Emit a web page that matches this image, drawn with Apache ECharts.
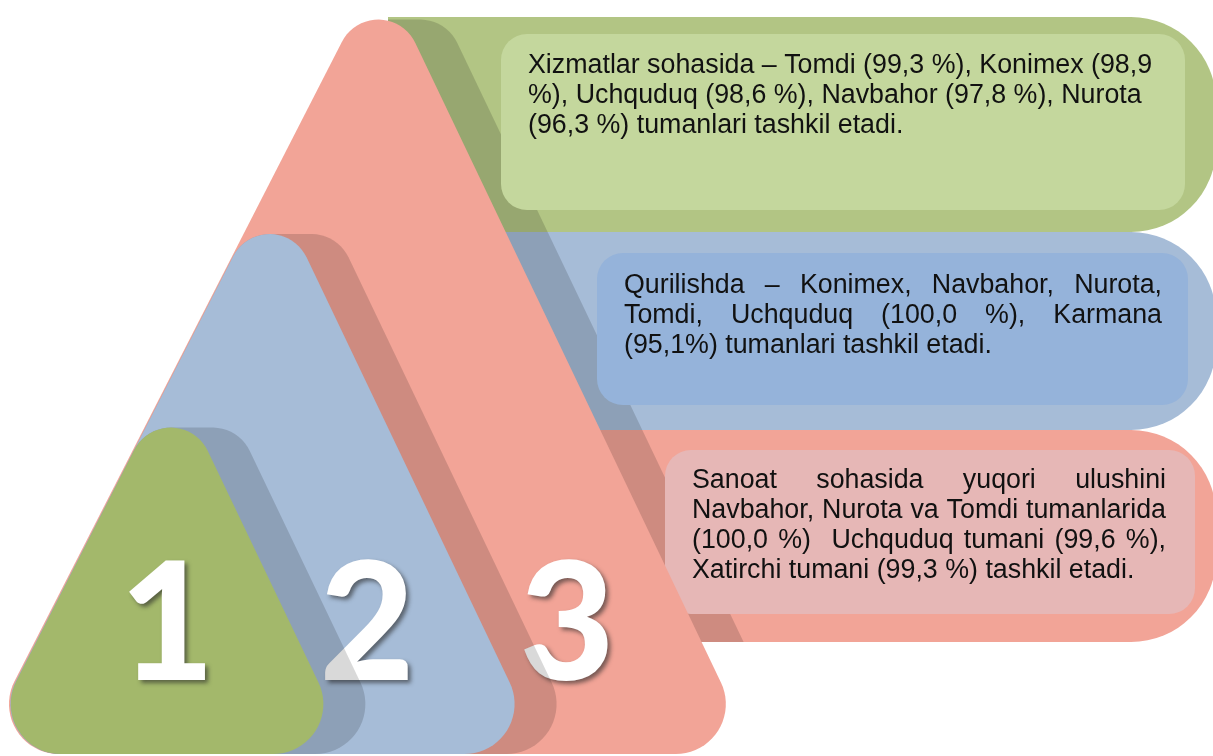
<!DOCTYPE html>
<html>
<head>
<meta charset="utf-8">
<style>
  html, body { margin: 0; padding: 0; background: #ffffff; }
  #chart { width: 1213px; height: 756px; }
</style>
<script src="https://cdn.jsdelivr.net/npm/echarts@6/dist/echarts.min.js"></script>
</head>
<body>
<div id="chart"></div>
<script>
// data
const steps = ["1", "2", "3"];
const servicesText = [
  "Xizmatlar sohasida – Tomdi (99,3 %), Konimex (98,9",
  "%), Uchquduq (98,6 %), Navbahor (97,8 %), Nurota",
  "(96,3 %) tumanlari tashkil etadi.",
];
const buildingText = [
  "Qurilishda – Konimex, Navbahor, Nurota,",
  "Tomdi, Uchquduq (100,0 %), Karmana",
  "(95,1%) tumanlari tashkil etadi.",
];
const industryText = [
  "Sanoat sohasida yuqori ulushini",
  "Navbahor, Nurota va Tomdi tumanlarida",
  "(100,0 %)  Uchquduq tumani (99,6 %),",
  "Xatirchi tumani (99,3 %) tashkil etadi.",
];
const paragraphs = [servicesText, buildingText, industryText];
const justified = [false, true, true];

// layout
const SL = 0.51, SR = 0.478;   // left / right edge slope (dx per dy)
const BASE_Y = 754;
const SHIFT = 42;              // width of the 3d shadow
const apexes = [[172, 376], [270, 181], [378, -35]];
const insets = [0, 0.8, 1.6];  // keep back layers from fringing on the shared left edge
const colors = [
  { tri: "#a3b86b", band: "#b2c584", box: "#c4d79d" },
  { tri: "#a6bcd7", band: "#a6bcd7", box: "#95b3da" },
  { tri: "#f2a497", band: "#f2a497", box: "#e6b7b6" },
];
const bands = [[17, 232], [232, 430], [430, 642]];
const BAND_X = 388, BAND_RIGHT = 1216;
const boxes = [[501, 34, 1185, 210], [597, 253, 1188, 405], [665, 450, 1195, 614]];
const textLeft = [528, 624, 692];
const textRight = [1160, 1162, 1166];
const firstLineY = [66, 286, 481];
const LINE_H = 30;
const FONT_SIZE = 26.8;
const FONT_FAMILY = "'Liberation Sans', Arial, sans-serif";
const numX = [167, 367, 567];
const NUM_Y = 627;
const NUM_SIZE = 164;
const SHADOW = "rgba(0, 0, 0, 0.15)";

function unit(a, p) {
  const dx = a[0] - p[0], dy = a[1] - p[1];
  const l = Math.hypot(dx, dy);
  return [dx / l, dy / l];
}

function roundedTriangle(apex, inset, rTop, rBottom) {
  const [ax, ay] = apex;
  const h = BASE_Y - ay;
  const corners = [[ax + inset, ay + inset / SL], [ax + SR * h, BASE_Y], [ax - SL * h + inset, BASE_Y]];
  const radii = [rTop, rBottom, rBottom];
  const pts = [];
  for (let i = 0; i < 3; i++) {
    const p = corners[i];
    const u1 = unit(corners[(i + 2) % 3], p);
    const u2 = unit(corners[(i + 1) % 3], p);
    const theta = Math.acos(u1[0] * u2[0] + u1[1] * u2[1]);
    const r = radii[i];
    const t = r / Math.tan(theta / 2);
    const d = r / Math.sin(theta / 2);
    const bis = unit([u1[0] + u2[0], u1[1] + u2[1]], [0, 0]);
    const c = [p[0] + bis[0] * d, p[1] + bis[1] * d];
    const a1 = Math.atan2(p[1] + u1[1] * t - c[1], p[0] + u1[0] * t - c[0]);
    const a2 = Math.atan2(p[1] + u2[1] * t - c[1], p[0] + u2[0] * t - c[0]);
    let da = a2 - a1;
    while (da > Math.PI) da -= 2 * Math.PI;
    while (da < -Math.PI) da += 2 * Math.PI;
    for (let k = 0; k <= 20; k++) {
      const ang = a1 + (da * k) / 20;
      pts.push([c[0] + r * Math.cos(ang), c[1] + r * Math.sin(ang)]);
    }
  }
  return pts;
}

function hull(points) {
  const p = points.slice().sort((a, b) => a[0] - b[0] || a[1] - b[1]);
  const cross = (o, a, b) => (a[0] - o[0]) * (b[1] - o[1]) - (a[1] - o[1]) * (b[0] - o[0]);
  const lower = [], upper = [];
  for (const q of p) {
    while (lower.length >= 2 && cross(lower[lower.length - 2], lower[lower.length - 1], q) <= 0) lower.pop();
    lower.push(q);
  }
  for (let i = p.length - 1; i >= 0; i--) {
    const q = p[i];
    while (upper.length >= 2 && cross(upper[upper.length - 2], upper[upper.length - 1], q) <= 0) upper.pop();
    upper.push(q);
  }
  return lower.slice(0, -1).concat(upper.slice(0, -1));
}

function extrude(pts) {
  return hull(pts.concat(pts.map((q) => [q[0] + SHIFT, q[1]])));
}

// clip polygon to half plane: keep points where f(p) >= 0 (f linear)
function clip(poly, f) {
  const out = [];
  for (let i = 0; i < poly.length; i++) {
    const a = poly[i], b = poly[(i + 1) % poly.length];
    const fa = f(a), fb = f(b);
    if (fa >= 0) out.push(a);
    if ((fa >= 0) !== (fb >= 0)) {
      const t = fa / (fa - fb);
      out.push([a[0] + (b[0] - a[0]) * t, a[1] + (b[1] - a[1]) * t]);
    }
  }
  return out;
}

const ctx = document.createElement("canvas").getContext("2d");
ctx.font = FONT_SIZE + "px " + FONT_FAMILY;

const textFont = { fontSize: FONT_SIZE, fontFamily: FONT_FAMILY, fill: "#111111" };
const elements = [];
let z = 0;
const add = (el) => { el.z = z++; elements.push(el); };

// bands
bands.forEach(([y0, y1], i) => {
  add({
    type: "rect",
    shape: { x: BAND_X, y: y0, width: BAND_RIGHT - BAND_X, height: y1 - y0, r: [0, 85, 85, 0] },
    style: { fill: colors[i].band },
  });
});

const tris = apexes.map((a, i) => roundedTriangle(a, insets[i], 41, 50));

// shadow of the big triangle over the bands
let pinkShadow = extrude(tris[2]);
pinkShadow = clip(pinkShadow, (q) => q[1] - bands[0][0]);
pinkShadow = clip(pinkShadow, (q) => bands[2][1] - q[1]);
pinkShadow = clip(pinkShadow, (q) => q[0] - BAND_X);
add({ type: "polygon", shape: { points: pinkShadow }, style: { fill: SHADOW } });

// inner boxes and texts
boxes.forEach(([x0, y0, x1, y1], i) => {
  add({
    type: "rect",
    shape: { x: x0, y: y0, width: x1 - x0, height: y1 - y0, r: 26 },
    style: { fill: colors[i].box },
  });
});

paragraphs.forEach((lines, i) => {
  lines.forEach((line, j) => {
    const y = firstLineY[i] + j * LINE_H;
    const last = j === lines.length - 1;
    if (!justified[i] || last) {
      add({ type: "text", style: Object.assign({ text: line, x: textLeft[i], y: y, verticalAlign: "middle" }, textFont) });
      return;
    }
    const words = line.split(" ");
    const widths = words.map((w) => ctx.measureText(w).width);
    const total = widths.reduce((s, v) => s + v, 0);
    const gap = (textRight[i] - textLeft[i] - total) / (words.length - 1);
    let x = textLeft[i];
    words.forEach((w, k) => {
      if (w) add({ type: "text", style: Object.assign({ text: w, x: x, y: y, verticalAlign: "middle" }, textFont) });
      x += widths[k] + gap;
    });
  });
});

// triangles, back to front: 3, 2, 1
for (let i = 2; i >= 0; i--) {
  if (i < 2) {
    add({ type: "polygon", shape: { points: extrude(tris[i]) }, style: { fill: SHADOW } });
  }
  add({ type: "polygon", shape: { points: tris[i] }, style: { fill: colors[i].tri } });
  add({
    type: "text",
    style: {
      text: steps[i],
      x: numX[i],
      y: NUM_Y,
      align: "center",
      verticalAlign: "middle",
      fontSize: NUM_SIZE,
      fontWeight: 900,
      fontFamily: "Lato, 'Open Sans', sans-serif",
      fill: "#ffffff",
      textShadowColor: "rgba(40, 40, 40, 0.6)",
      textShadowBlur: 4,
      textShadowOffsetX: 3,
      textShadowOffsetY: 3,
    },
  });
}

const chart = echarts.init(document.getElementById("chart"));
chart.setOption({
  animation: false,
  graphic: { elements: elements },
});
</script>
</body>
</html>
